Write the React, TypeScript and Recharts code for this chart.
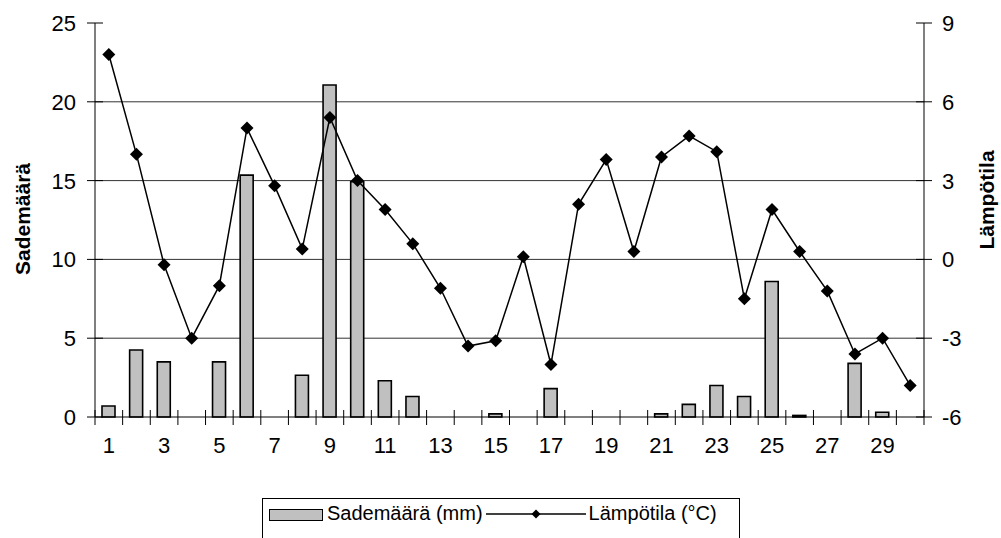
import { Bar, CartesianGrid, ComposedChart, Line, XAxis, YAxis } from "recharts";

const days = Array.from({ length: 30 }, (_, i) => String(i + 1));

// sademäärä (mm) per day
const rain = [
  0.7, 4.25, 3.5, 0, 3.5, 15.35, 0, 2.65, 21.07, 14.93,
  2.3, 1.3, 0, 0, 0.2, 0, 1.8, 0, 0, 0,
  0.2, 0.8, 2.0, 1.3, 8.6, 0.1, 0, 3.4, 0.3, 0,
];

// lämpötila (°C) per day
const temp = [
  7.8, 4.0, -0.2, -3.0, -1.0, 5.0, 2.8, 0.4, 5.4, 3.0,
  1.9, 0.6, -1.1, -3.3, -3.1, 0.1, -4.0, 2.1, 3.8, 0.3,
  3.9, 4.7, 4.1, -1.5, 1.9, 0.3, -1.2, -3.6, -3.0, -4.8,
];

const rainTicks = [0, 5, 10, 15, 20, 25];
const tempTicks = [-6, -3, 0, 3, 6, 9];
const gridValues = [5, 10, 15, 20];

const data = days.map((d, i) => ({ day: d, rain: rain[i], temp: temp[i] }));

const FONT = '"Liberation Sans", Arial, sans-serif';

const XTick = (props: any) => {
  const { x, y, index, width } = props;
  const half = width / days.length / 2;
  return (
    <g>
      <line x1={x - half} x2={x - half} y1={y - 7} y2={y + 8} stroke="#000" />
      {index === days.length - 1 && (
        <line x1={x + half} x2={x + half} y1={y - 7} y2={y + 8} stroke="#000" />
      )}
      {index % 2 === 0 && (
        <text x={x} y={y + 36} textAnchor="middle" fontSize={22} fontFamily={FONT} fill="#000">
          {props.payload.value}
        </text>
      )}
    </g>
  );
};

const LeftTick = (props: any) => {
  const { x, y, payload } = props;
  return (
    <g>
      <line x1={x - 8} x2={x + 8} y1={y} y2={y} stroke="#000" />
      <text x={x - 19} y={y + 8} textAnchor="end" fontSize={22} fontFamily={FONT} fill="#000">
        {payload.value}
      </text>
    </g>
  );
};

const RightTick = (props: any) => {
  const { x, y, payload } = props;
  return (
    <g>
      <line x1={x - 8} x2={x + 8} y1={y} y2={y} stroke="#000" />
      <text x={x + 18} y={y + 8} textAnchor="start" fontSize={22} fontFamily={FONT} fill="#000">
        {payload.value}
      </text>
    </g>
  );
};

const Diamond = (props: any) => {
  const { cx, cy } = props;
  if (cx == null || cy == null) return null;
  const r = 6.5;
  return (
    <polygon
      points={`${cx},${cy - r} ${cx + r},${cy} ${cx},${cy + r} ${cx - r},${cy}`}
      fill="#000"
    />
  );
};

export default function App() {
  return (
    <div style={{ position: "absolute", left: 0, top: 0, width: 1001, height: 538, background: "#fff", overflow: "hidden", fontFamily: FONT }}>
      <ComposedChart
        width={1001}
        height={538}
        data={data}
        margin={{ top: 23, right: 17, left: 35, bottom: 81 }}
      >
        <CartesianGrid
          vertical={false}
          stroke="#333"
          yAxisId="left"
          horizontalValues={gridValues}
        />
        <XAxis
          dataKey="day"
          interval={0}
          height={40}
          tickSize={0}
          tickMargin={0}
          tickLine={false}
          axisLine={{ stroke: "#000" }}
          tick={<XTick />}
        />
        <YAxis
          yAxisId="left"
          domain={[0, 25]}
          ticks={rainTicks}
          width={60}
          tickSize={0}
          tickMargin={0}
          tickLine={false}
          axisLine={{ stroke: "#000" }}
          tick={<LeftTick />}
        />
        <YAxis
          yAxisId="right"
          orientation="right"
          domain={[-6, 9]}
          ticks={tempTicks}
          width={60}
          tickSize={0}
          tickMargin={0}
          tickLine={false}
          axisLine={{ stroke: "#000" }}
          tick={<RightTick />}
        />
        <Bar
          yAxisId="left"
          dataKey="rain"
          barSize={13}
          fill="#c0c0c0"
          stroke="#000"
          strokeWidth={1.6}
          isAnimationActive={false}
        />
        <Line
          yAxisId="right"
          dataKey="temp"
          stroke="#000"
          strokeWidth={1.5}
          dot={<Diamond />}
          activeDot={false}
          isAnimationActive={false}
        />
        <text
          x={22}
          y={219}
          transform="rotate(-90 22 219)"
          textAnchor="middle"
          dominantBaseline="central"
          fontSize={21}
          fontWeight="bold"
          fontFamily={FONT}
          fill="#000"
        >
          Sademäärä
        </text>
        <text
          x={986}
          y={200}
          transform="rotate(-90 986 200)"
          textAnchor="middle"
          dominantBaseline="central"
          fontSize={21}
          fontWeight="bold"
          fontFamily={FONT}
          fill="#000"
        >
          Lämpötila
        </text>
      </ComposedChart>
      <div
        style={{
          position: "absolute",
          left: 262,
          top: 498,
          width: 478,
          height: 60,
          border: "1px solid #000",
          boxSizing: "border-box",
          display: "flex",
          alignItems: "flex-start",
          paddingTop: 3,
          paddingLeft: 6,
          fontSize: 20,
          color: "#000",
          whiteSpace: "nowrap",
        }}
      >
        <span style={{ display: "inline-block", width: 52, height: 10, background: "#c0c0c0", border: "1.5px solid #000", marginTop: 7, marginRight: 4 }} />
        <span>Sademäärä (mm)</span>
        <svg width={104} height={24} style={{ margin: "0 1px" }}>
          <line x1={2} x2={102} y1={12} y2={12} stroke="#000" strokeWidth={1.5} />
          <polygon points="52,7.5 56.5,12 52,16.5 47.5,12" fill="#000" />
        </svg>
        <span>Lämpötila (°C)</span>
      </div>
    </div>
  );
}
